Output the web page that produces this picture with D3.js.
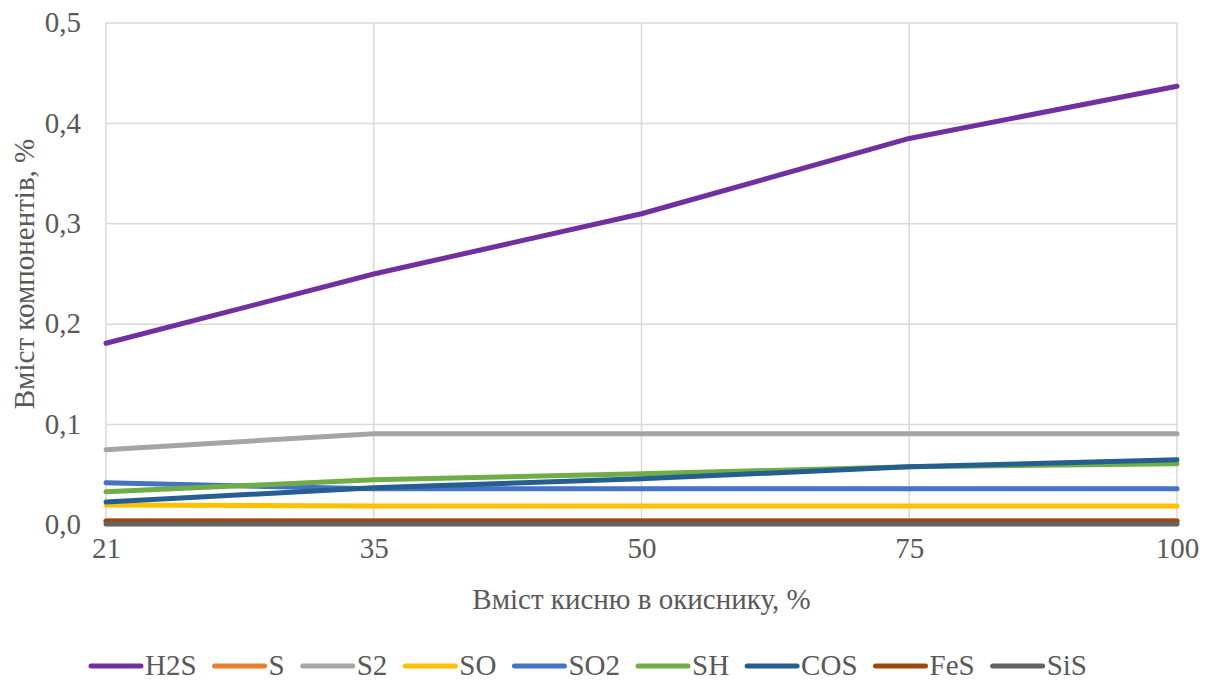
<!DOCTYPE html>
<html>
<head>
<meta charset="utf-8">
<script src="https://cdn.jsdelivr.net/npm/d3@7/dist/d3.min.js"></script>
<style>
  html, body { margin: 0; padding: 0; background: #fff; }
  svg { display: block; font-family: "Liberation Serif", "Times New Roman", serif; }
</style>
</head>
<body>
<svg id="chart" width="1210" height="681"></svg>
<script>
// Oxygen content in the oxidiser, %
const categories = ["21", "35", "50", "75", "100"];

// Component content, % (one array per sulfur species)
const H2S = [0.181, 0.250, 0.310, 0.385, 0.437];
const S   = [0.004, 0.004, 0.004, 0.004, 0.004];
const S2  = [0.075, 0.091, 0.091, 0.091, 0.091];
const SO  = [0.020, 0.019, 0.019, 0.019, 0.019];
const SO2 = [0.042, 0.036, 0.036, 0.036, 0.036];
const SH  = [0.033, 0.045, 0.051, 0.058, 0.061];
const COS = [0.023, 0.037, 0.046, 0.058, 0.065];
const FeS = [0.004, 0.004, 0.004, 0.004, 0.004];
const SiS = [0.001, 0.001, 0.001, 0.001, 0.001];

const seriesNames = ["H2S", "S", "S2", "SO", "SO2", "SH", "COS", "FeS", "SiS"];
const seriesValues = [H2S, S, S2, SO, SO2, SH, COS, FeS, SiS];
const seriesColors = ["#7030A0", "#ED7D31", "#A5A5A5", "#FFC000", "#4472C4",
                      "#70AD47", "#255E91", "#9E480E", "#636363"];

const yTicks = [0, 0.1, 0.2, 0.3, 0.4, 0.5];

const xTitle = "Вміст кисню в окиснику, %";
const yTitle = "Вміст компонентів, %";

const textColor = "#595959";
const fontSize = "29px";

const svg = d3.select("#chart");
const margin = { left: 106, right: 33, top: 23, bottom: 156 };
const W = 1210, H = 681;
const plotW = W - margin.left - margin.right;
const plotH = H - margin.top - margin.bottom;

const x = d3.scalePoint().domain(categories).range([0, plotW]).padding(0);
const y = d3.scaleLinear().domain([0, 0.5]).range([plotH, 0]);

const g = svg.append("g").attr("transform", `translate(${margin.left},${margin.top})`);

// gridlines
g.append("g").selectAll("line").data(yTicks).join("line")
  .attr("x1", 0).attr("x2", plotW)
  .attr("y1", d => y(d)).attr("y2", d => y(d))
  .attr("stroke", "#d9d9d9").attr("stroke-width", 1.5);
g.append("g").selectAll("line").data(categories).join("line")
  .attr("x1", d => x(d)).attr("x2", d => x(d))
  .attr("y1", 0).attr("y2", plotH)
  .attr("stroke", "#d9d9d9").attr("stroke-width", 1.5);

// axes
const fmt = d => d3.format(".1f")(d).replace(".", ",");
const yAxis = g.append("g")
  .call(d3.axisLeft(y).tickValues(yTicks).tickFormat(fmt).tickSize(0).tickPadding(25))
  .attr("font-family", null).attr("font-size", null);
yAxis.select(".domain").remove();
yAxis.selectAll("text").attr("fill", textColor).style("font-size", fontSize)
  .attr("dy", "0.3em");

const xAxis = g.append("g").attr("transform", `translate(0,${plotH})`)
  .call(d3.axisBottom(x).tickSize(0).tickPadding(24))
  .attr("font-family", null).attr("font-size", null);
xAxis.select(".domain").attr("stroke", "#d9d9d9").attr("stroke-width", 1.5);
xAxis.selectAll("text").attr("fill", textColor).style("font-size", fontSize)
  .attr("dy", "0.3em");

// series lines
const line = d3.line().x((d, i) => x(categories[i])).y(d => y(d));
g.append("g").selectAll("path").data(seriesValues).join("path")
  .attr("d", line)
  .attr("fill", "none")
  .attr("stroke", (d, i) => seriesColors[i])
  .attr("stroke-width", 5)
  .attr("stroke-linejoin", "round")
  .attr("stroke-linecap", "round");

// axis titles
svg.append("text")
  .attr("x", margin.left + plotW / 2).attr("y", 609)
  .attr("text-anchor", "middle").attr("fill", textColor)
  .style("font-size", fontSize).text(xTitle);
svg.append("text")
  .attr("transform", `translate(34,${margin.top + plotH / 2}) rotate(-90)`)
  .attr("text-anchor", "middle").attr("fill", textColor)
  .style("font-size", fontSize).text(yTitle);

// legend: swatch + label, laid out left to right
const swatchLen = 50, swatchGap = 4, itemGap = 18;
const legend = svg.append("g").attr("transform", "translate(0,666)");
let cursor = 91;
seriesNames.forEach((name, i) => {
  const item = legend.append("g").attr("transform", `translate(${cursor},0)`);
  item.append("line")
    .attr("x1", 0).attr("x2", swatchLen).attr("y1", 0).attr("y2", 0)
    .attr("stroke", seriesColors[i])
    .attr("stroke-width", 5).attr("stroke-linecap", "round");
  const label = item.append("text")
    .attr("x", swatchLen + swatchGap).attr("y", 0).attr("dy", "0.3em")
    .attr("fill", textColor).style("font-size", fontSize)
    .text(name);
  cursor += swatchLen + swatchGap + label.node().getComputedTextLength() + itemGap;
});
</script>
</body>
</html>
